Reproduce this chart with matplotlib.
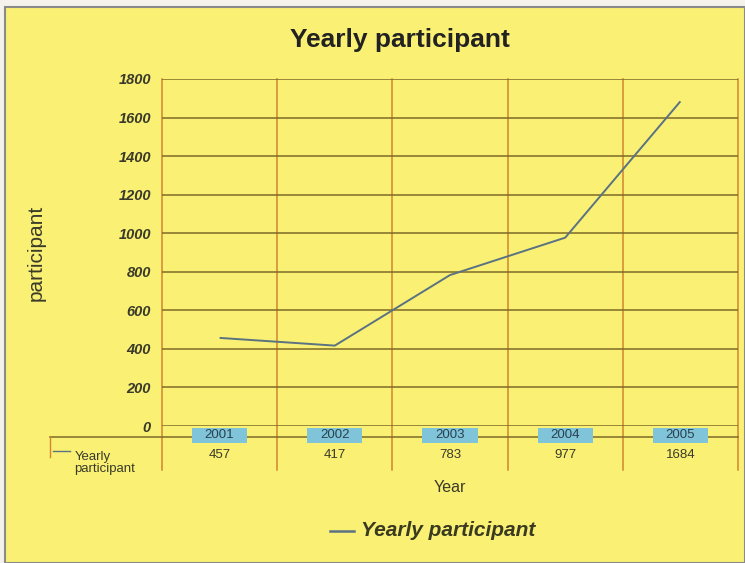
import matplotlib.pyplot as plt
from matplotlib.patches import Rectangle
from matplotlib.lines import Line2D

plt.rcParams['font.family'] = ['Liberation Sans', 'DejaVu Sans']

years = ['2001', '2002', '2003', '2004', '2005']
participants = [457, 417, 783, 977, 1684]
yticks = [0, 200, 400, 600, 800, 1000, 1200, 1400, 1600, 1800]

W, H = 745, 563
YELLOW = '#f9f074'
GRID = '#7d6a28'
VLINE = '#d2862e'
LINE = '#5a7282'
BOX = '#7fc4d8'
TEXT = '#3a3a2a'

fig = plt.figure(figsize=(W / 100, H / 100), dpi=100, facecolor='#f4f2ea')

# yellow panel with grey frame, kept behind the axes
fig.patches.append(Rectangle((5 / W, 0), 1 - 5 / W, 1 - 7 / H, transform=fig.transFigure,
                             facecolor=YELLOW, edgecolor='#8a8a8a', linewidth=1.5,
                             zorder=-10))

left, right, top, bottom = 162, 738, 79, 426
ax = fig.add_axes([left / W, 1 - bottom / H, (right - left) / W, (bottom - top) / H])
ax.set_facecolor('none')
ax.set_zorder(1)

n = len(years)
x = [i + 0.5 for i in range(n)]
ax.plot(x, participants, color=LINE, linewidth=1.4, solid_capstyle='butt', zorder=3)

ax.set_xlim(0, n)
ax.set_ylim(0, 1800)
for s in ax.spines.values():
    s.set_visible(False)

for v in yticks:
    ax.axhline(v, color=GRID, linewidth=1.1, zorder=1)

# vertical category boundaries, running down through the data table
for i in range(n + 1):
    ax.axvline(i, ymin=-0.127, ymax=1, color=VLINE, linewidth=1.1, clip_on=False, zorder=0)

ax.set_yticks(yticks)
ax.set_yticklabels([str(v) for v in yticks], fontsize=10.5, fontstyle='italic',
                   fontweight='bold', color=TEXT)
ax.tick_params(axis='y', length=0, pad=8)
ax.set_xticks([])

ax.set_ylabel('participant', fontsize=15, color=TEXT, labelpad=52)

# data table line under the axis
ax.add_line(Line2D([-0.194, 1.0], [-0.032, -0.032], transform=ax.transAxes,
                   color=GRID, linewidth=1.1, clip_on=False))
ax.add_line(Line2D([-0.194, -0.194], [-0.032, -0.09], transform=ax.transAxes,
                   color=VLINE, linewidth=1.0, clip_on=False))

trans = ax.get_xaxis_transform()
for xi, yr, val in zip(x, years, participants):
    ax.add_patch(Rectangle((xi - 0.24, -0.049), 0.48, 0.043, transform=trans,
                           facecolor=BOX, edgecolor='none', clip_on=False, zorder=4))
    ax.text(xi, -0.027, yr, transform=trans, ha='center', va='center', fontsize=9.5,
            color='#2a4050', clip_on=False, zorder=5)
    ax.text(xi, -0.085, str(val), transform=trans, ha='center', va='center',
            fontsize=9.5, color=TEXT, clip_on=False)

# series key in the table
ax.add_line(Line2D([-0.19, -0.16], [-0.072, -0.072], transform=ax.transAxes,
                   color=LINE, linewidth=1.0, clip_on=False))
ax.text(-0.152, -0.072, 'Yearly\nparticipant', transform=ax.transAxes, ha='left',
        va='top', fontsize=9.5, color=TEXT, linespacing=1.0, clip_on=False)
ax.text(0.5, -0.178, 'Year', transform=ax.transAxes, ha='center', va='center',
        fontsize=11.5, color=TEXT)

fig.text(400 / W, 1 - 40 / H, 'Yearly participant', ha='center', va='center',
         fontsize=19, fontweight='bold', color='#222222')

# legend
fig.add_artist(Line2D([330 / W, 354 / W], [1 - 531 / H, 1 - 531 / H],
                      transform=fig.transFigure, color=LINE, linewidth=1.8))
fig.text(361 / W, 1 - 531 / H, 'Yearly participant', ha='left', va='center',
         fontsize=15, fontstyle='italic', fontweight='bold', color='#3a3a20')

fig.savefig('out.png', dpi=100, facecolor=fig.get_facecolor())
